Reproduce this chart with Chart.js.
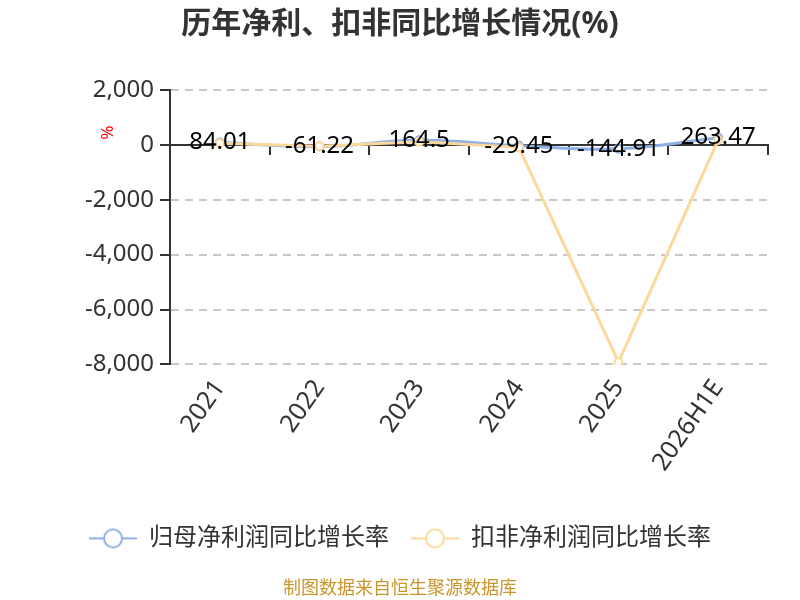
<!DOCTYPE html>
<html>
<head>
<meta charset="utf-8">
<script src="https://cdn.jsdelivr.net/npm/chart.js@4.4.0/dist/chart.umd.min.js"></script>
<style>
  body { margin: 0; background: #fff; }
</style>
</head>
<body>
<canvas id="myChart" width="800" height="600"></canvas>
<script>
const years = ["2021", "2022", "2023", "2024", "2025", "2026H1E"];
const netProfitGrowth = [84.01, -61.22, 164.5, -29.45, -144.91, 263.47];
const deductedGrowth = [60, -50, 110, -90, -7920, 180];
const yTicks = [2000, 0, -2000, -4000, -6000, -8000];

const BLUE = "#8eb0e3";
const ORANGE = "#fdd89b";
const FONT = "'Noto Sans', 'Noto Sans CJK SC', sans-serif";

// legend icon: line with a hollow circle in the middle
function legendIcon(color) {
  const c = document.createElement("canvas");
  c.width = 48; c.height = 22;
  const g = c.getContext("2d");
  g.strokeStyle = color;
  g.lineWidth = 2;
  g.beginPath(); g.moveTo(0, 11); g.lineTo(48, 11); g.stroke();
  g.beginPath(); g.arc(24, 11, 9, 0, Math.PI * 2);
  g.fillStyle = "#fff"; g.fill(); g.stroke();
  return c;
}
const icons = [legendIcon(BLUE), legendIcon(ORANGE)];

// value labels on the blue series
const valueLabels = {
  id: "valueLabels",
  afterDatasetsDraw(chart) {
    const ctx = chart.ctx;
    const meta = chart.getDatasetMeta(0);
    ctx.save();
    ctx.font = "24px " + FONT;
    ctx.fillStyle = "#000";
    ctx.textAlign = "center";
    ctx.textBaseline = "middle";
    meta.data.forEach((pt, i) => {
      ctx.fillText(String(netProfitGrowth[i]), pt.x, pt.y);
    });
    ctx.restore();
  }
};

// red unit mark beside the y axis
const unitMark = {
  id: "unitMark",
  afterDraw(chart) {
    const ctx = chart.ctx;
    const y = chart.scales.y.getPixelForValue(450);
    ctx.save();
    ctx.translate(chart.chartArea.left - 64, y);
    ctx.rotate(Math.PI / 2);
    ctx.font = "17px " + FONT;
    ctx.fillStyle = "#ff0000";
    ctx.textAlign = "center";
    ctx.textBaseline = "middle";
    ctx.fillText("%", 0, 0);
    ctx.restore();
  }
};

new Chart(document.getElementById("myChart"), {
  type: "line",
  data: {
    labels: years,
    datasets: [
      {
        label: "归母净利润同比增长率",
        data: netProfitGrowth,
        borderColor: BLUE,
        backgroundColor: "#fff",
        borderWidth: 3,
        pointRadius: 4,
        pointBorderWidth: 2,
        pointBackgroundColor: "#fff",
        pointBorderColor: BLUE,
        tension: 0.4,
        order: 2
      },
      {
        label: "扣非净利润同比增长率",
        data: deductedGrowth,
        borderColor: ORANGE,
        backgroundColor: "#fff",
        borderWidth: 3,
        pointRadius: 4,
        pointBorderWidth: 2,
        pointBackgroundColor: "#fff",
        pointBorderColor: ORANGE,
        tension: 0,
        order: 1
      }
    ]
  },
  options: {
    responsive: false,
    animation: false,
    devicePixelRatio: 1,
    layout: { padding: { left: 32, right: 32, top: 0, bottom: 0 } },
    scales: {
      x: {
        type: "category",
        position: "bottom",
        offset: true,
        grid: { display: false },
        border: { display: false },
        ticks: {
          color: "#333",
          font: { family: FONT, size: 25 },
          minRotation: 55,
          maxRotation: 55,
          padding: 2
        },
        afterFit(scale) { scale.height = 140; }
      },
      x2: {
        type: "category",
        labels: years,
        position: { y: 0 },
        offset: true,
        grid: {
          offset: true,
          drawOnChartArea: false,
          tickLength: 9,
          color: "#333",
          lineWidth: 2
        },
        border: { color: "#333", width: 2 },
        ticks: { display: false }
      },
      y: {
        min: -8000,
        max: 2000,
        afterBuildTicks(scale) {
          scale.ticks = yTicks.map(v => ({ value: v }));
        },
        grid: {
          color: ctx => (ctx.tick && ctx.tick.value === 0 ? "rgba(0,0,0,0)" : "#c8c8c8"),
          tickColor: "#333",
          tickLength: 10,
          lineWidth: 2
        },
        border: { color: "#333", width: 2, dash: [8, 6] },
        ticks: {
          color: "#333",
          font: { family: FONT, size: 24 },
          padding: 6,
          callback: v => v.toLocaleString("en-US")
        },
        afterFit(scale) { scale.width = 138; }
      }
    },
    plugins: {
      title: {
        display: true,
        text: "历年净利、扣非同比增长情况(%)",
        color: "#333",
        font: { family: FONT, size: 30, weight: "bold" },
        padding: { top: 6, bottom: 48 }
      },
      subtitle: {
        display: true,
        position: "bottom",
        text: "制图数据来自恒生聚源数据库",
        color: "#c8962c",
        font: { family: FONT, size: 18 },
        padding: { top: 18, bottom: 0 }
      },
      legend: {
        position: "bottom",
        labels: {
          color: "#333",
          font: { family: FONT, size: 24 },
          usePointStyle: true,
          pointStyleWidth: 48,
          padding: 22,
          sort: (a, b) => a.datasetIndex - b.datasetIndex,
          generateLabels(chart) {
            const items = Chart.defaults.plugins.legend.labels.generateLabels(chart);
            items.forEach(it => { it.pointStyle = icons[it.datasetIndex]; });
            return items;
          }
        }
      },
      tooltip: { enabled: false }
    }
  },
  plugins: [valueLabels, unitMark]
});
</script>
</body>
</html>
